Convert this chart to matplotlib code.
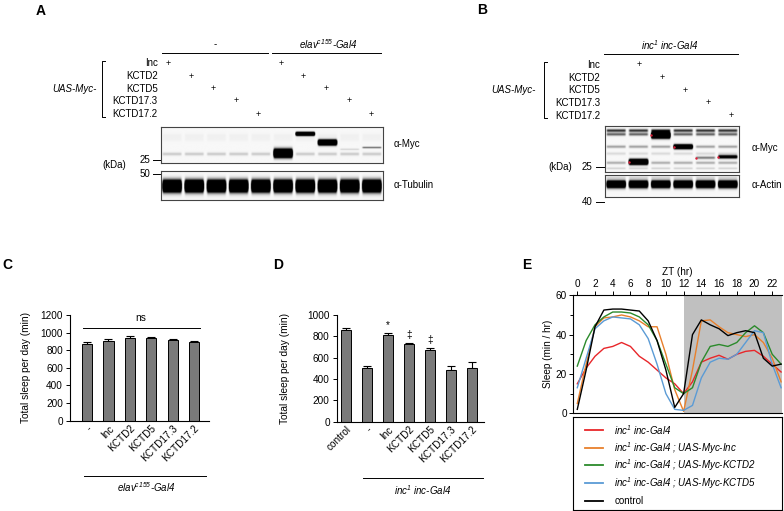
import numpy as np
import matplotlib
matplotlib.use("Agg")
import matplotlib.pyplot as plt
from matplotlib.lines import Line2D

plt.rcParams['font.family'] = ['Liberation Sans', 'DejaVu Sans']
plt.rcParams['mathtext.default'] = 'regular'

# ---------------- data ----------------
ROW_LABELS = ["Inc", "KCTD2", "KCTD5", "KCTD17.3", "KCTD17.2"]

# western blots: (lane, position from top, sigma, level)
MYC_A_COMMON = [(0.75, 0.03, 0.18), (0.24, 0.04, 0.03), (0.34, 0.04, 0.025)]
MYC_A_LANE = [5, 6, 7, 9, 8]
MYC_A_POS = [0.73, 0.19, 0.43, 0.57, 0.62]
MYC_A_SIGMA = [0.07, 0.03, 0.045, 0.015, 0.015]
MYC_A_LEVEL = [4.0, 4.0, 4.0, 0.6, 0.15]
TUB_A_COMMON = [(0.52, 0.12, 4.0)]

MYC_B_COMMON = [(0.10, 0.022, 0.8), (0.18, 0.022, 0.6), (0.45, 0.02, 0.35),
                (0.60, 0.02, 0.12), (0.80, 0.02, 0.3), (0.92, 0.015, 0.15)]
MYC_B_LANE = [1, 2, 3, 4, 5]
MYC_B_POS = [0.78, 0.20, 0.45, 0.69, 0.67]
MYC_B_SIGMA = [0.035, 0.04, 0.03, 0.02, 0.025]
MYC_B_LEVEL = [4.0, 4.0, 3.0, 0.5, 1.5]
ACT_B_COMMON = [(0.42, 0.1, 3.0), (0.12, 0.04, 0.12)]

# panel C
C_LABELS = ["-", "Inc", "KCTD2", "KCTD5", "KCTD17.3", "KCTD17.2"]
C_MEAN = [875, 905, 935, 940, 920, 890]
C_SEM = [15, 20, 25, 15, 12, 20]

# panel D
D_LABELS = ["control", "-", "Inc", "KCTD2", "KCTD5", "KCTD17.3", "KCTD17.2"]
D_MEAN = [860, 500, 815, 725, 675, 485, 505]
D_SEM = [20, 25, 20, 12, 15, 40, 55]
D_MARKS = ["", "", "*", "\u2021", "\u2021", "", ""]

# panel E
ZT = list(range(24))
E_RED = [15, 23, 29, 33, 34, 36, 34, 29, 26, 22, 18, 15, 10, 16, 26, 28, 29.5, 27.5, 30, 31.5, 32, 29, 25, 21]
E_ORANGE = [5, 25, 44, 48.5, 49, 50, 49, 47, 44, 44, 30, 12, 1, 22, 47, 47.5, 44, 41, 40, 39, 40, 36, 28, 16]
E_GREEN = [24, 37, 45, 49, 51.5, 51.5, 51, 49, 45, 37, 25, 13, 10, 13, 26, 34, 35, 34, 36, 41, 44.5, 41, 30, 25]
E_BLUE = [13, 28, 43, 47, 49, 48.5, 48, 45, 38, 25, 10, 2, 1.5, 4, 18, 26, 28, 27.5, 30, 36, 42, 41, 25, 13]
E_BLACK = [2, 22, 44, 52.5, 53, 53, 52.5, 52, 47, 37, 22, 3, 10, 40, 47.5, 45, 43, 39.5, 41, 42, 41, 28, 24, 25]
E_SERIES = [E_RED, E_ORANGE, E_GREEN, E_BLUE, E_BLACK]
E_COLORS = ["#e8262a", "#e8802c", "#2b8a2b", "#5b9bd5", "black"]
E_LABELS = ["inc$^1$ inc-Gal4", "inc$^1$ inc-Gal4 ; UAS-Myc-Inc",
            "inc$^1$ inc-Gal4 ; UAS-Myc-KCTD2", "inc$^1$ inc-Gal4 ; UAS-Myc-KCTD5", "control"]

# ---------------- layout helpers ----------------
W, H = 784, 511
fig = plt.figure(figsize=(W / 100, H / 100), dpi=100)


def box(x0, y0, x1, y1):
    return fig.add_axes([x0 / W, 1 - y1 / H, (x1 - x0) / W, (y1 - y0) / H])


def ftext(x, y, s, **kw):
    kw.setdefault("fontsize", 7)
    kw.setdefault("va", "center")
    fig.text(x / W, 1 - y / H, s, **kw)


def fline(xs, ys, **kw):
    kw.setdefault("color", "black")
    kw.setdefault("lw", 0.7)
    fig.add_artist(Line2D([x / W for x in xs], [1 - y / H for y in ys], **kw))


def blot(ax, n, common, lanes=(), pos=(), sig=(), lev=()):
    rows, per = 100, 40
    dark = np.full((rows, n * per), 0.03)
    y = (np.arange(rows) + 0.5) / rows
    xl = (np.arange(per) + 0.5) / per
    lane_prof = np.clip((0.46 - np.abs(xl - 0.5)) / 0.08, 0, 1)
    bands = [(l, p, s, v) for l in range(n) for (p, s, v) in common]
    bands += list(zip(lanes, pos, sig, lev))
    for l, p, s, v in bands:
        prof = v * np.exp(-0.5 * ((y - p) / s) ** 2)
        dark[:, l * per:(l + 1) * per] += np.outer(prof, lane_prof)
    ax.imshow(1 - np.clip(dark, 0, 1), cmap="gray", vmin=0, vmax=1, aspect="auto",
              extent=(0, n, 1, 0), interpolation="bilinear")
    ax.set_xlim(0, n)
    ax.set_ylim(1, 0)
    ax.set_xticks([])
    ax.set_yticks([])
    for s in ax.spines.values():
        s.set_color("#444444")
        s.set_linewidth(0.8)


# ---------------- panel A ----------------
ftext(41, 11, "A", fontsize=10, weight="bold", ha="center")
ftext(215, 44, "-", ha="center")
ftext(328, 44, "elav$^{c155}$-Gal4", ha="center", style="italic")
fline([162, 268], [52.7, 52.7])
fline([272, 381], [52.7, 52.7])
rows_a = [63.3, 76, 88.7, 101, 114]
for i, lab in enumerate(ROW_LABELS):
    ftext(157.7, rows_a[i], lab, ha="right")
    for lane in (i, i + 5):
        ftext(168.3 + 22.55 * lane, rows_a[i], "+", ha="center", fontsize=6.5)
fline([105, 102, 102, 105], [60.7, 60.7, 117.3, 117.3])
ftext(96.7, 88.7, "UAS-Myc-", ha="right", style="italic")

ax = box(161, 127, 383, 163)
blot(ax, 10, MYC_A_COMMON, MYC_A_LANE, MYC_A_POS, MYC_A_SIGMA, MYC_A_LEVEL)
ax = box(161, 171, 383, 200)
blot(ax, 10, TUB_A_COMMON)
ftext(150, 160, "25", ha="right")
fline([153, 160], [160, 160])
ftext(114, 165.5, "(kDa)", ha="center")
ftext(150, 173.7, "50", ha="right")
fline([153, 160], [173.7, 173.7])
ftext(394, 144, "\u03b1-Myc")
ftext(394, 185.5, "\u03b1-Tubulin")

# ---------------- panel B ----------------
ftext(482, 10.5, "B", fontsize=10, weight="bold", ha="center")
ftext(670, 45, "inc$^1$ inc-Gal4", ha="center", style="italic")
fline([604, 738], [54.3, 54.3])
rows_b = [65, 77.7, 90, 102.7, 115.7]
for i, lab in enumerate(ROW_LABELS):
    ftext(600, rows_b[i], lab, ha="right")
    ftext(616.5 + 22.85 * (i + 1), rows_b[i], "+", ha="center", fontsize=6.5)
fline([547, 544, 544, 547], [61.7, 61.7, 118.3, 118.3])
ftext(536, 90, "UAS-Myc-", ha="right", style="italic")

ax = box(605, 126, 739, 172)
blot(ax, 6, MYC_B_COMMON, MYC_B_LANE, MYC_B_POS, MYC_B_SIGMA, MYC_B_LEVEL)
ax.scatter([l + 0.08 for l in MYC_B_LANE], MYC_B_POS, s=3, color="#e0203a", zorder=3, lw=0)
ax = box(605, 175, 739, 197)
blot(ax, 6, ACT_B_COMMON)
ftext(592.7, 166.7, "25", ha="right")
fline([596, 604], [166.7, 166.7])
ftext(560, 166.7, "(kDa)", ha="center")
ftext(592.7, 201.7, "40", ha="right")
fline([596, 604], [201.7, 201.7])
ftext(751.7, 148.3, "\u03b1-Myc")
ftext(751.7, 185, "\u03b1-Actin")


# ---------------- bar panels ----------------
def bar_panel(ax, labels, mean, sem, ymax):
    x = np.arange(len(labels))
    ax.errorbar(x, mean, yerr=[np.zeros(len(sem)), sem], fmt="none", ecolor="black",
                elinewidth=0.8, capsize=3, capthick=0.8, zorder=1)
    ax.bar(x, mean, width=0.47, color="#7a7a7a", edgecolor="black", lw=0.7, zorder=2)
    ax.set_ylim(0, ymax)
    ax.set_yticks(np.arange(0, ymax + 1, 200))
    ax.set_xticks(x)
    ax.set_xticklabels(labels, rotation=45, ha="right", rotation_mode="anchor")
    ax.tick_params(labelsize=7.2, length=3, width=0.7, pad=2)
    ax.tick_params(axis="x", length=0)
    for s in ("top", "right"):
        ax.spines[s].set_visible(False)
    for s in ("left", "bottom"):
        ax.spines[s].set_linewidth(0.8)
    ax.set_ylabel("Total sleep per day (min)", fontsize=7.3)
    return x


ftext(7, 265, "C", fontsize=10, weight="bold", ha="center")
ax = box(70, 315, 209, 420.7)
x = bar_panel(ax, C_LABELS, C_MEAN, C_SEM, 1200)
ax.set_xlim(-0.8, 5.7)
ax.yaxis.set_label_coords((31 - 70) / 139, 0.5)
ax.plot([x[0] - 0.2, x[-1] + 0.28], [1055, 1055], color="black", lw=0.7)
ax.text((x[0] + x[-1]) / 2, 1110, "ns", ha="center", va="bottom", fontsize=7.3)
fline([84, 206], [475.7, 475.7])
ftext(146.7, 486.7, "elav$^{c155}$-Gal4", ha="center", style="italic")

ftext(278, 265, "D", fontsize=10, weight="bold", ha="center")
ax = box(336.7, 315, 484, 421.7)
x = bar_panel(ax, D_LABELS, D_MEAN, D_SEM, 1000)
ax.set_xlim(-0.43, 6.57)
ax.yaxis.set_label_coords((290 - 336.7) / 147.3, 0.5)
for xi, m, e, mk in zip(x, D_MEAN, D_SEM, D_MARKS):
    if mk:
        ax.text(xi, m + e + 25, mk, ha="center", va="bottom", fontsize=7.3)
fline([363, 483], [477.7, 477.7])
ftext(423, 490, "inc$^1$ inc-Gal4", ha="center", style="italic")

# ---------------- panel E ----------------
ftext(527, 265, "E", fontsize=10, weight="bold", ha="center")
ax = box(573.3, 295.3, 781.7, 413.3)
ax.axvspan(12, 23.07, color="#c0c0c0", lw=0, zorder=0)
for ys, c in zip(E_SERIES, E_COLORS):
    ax.plot(ZT, ys, color=c, lw=1.0)
ax.set_xlim(-0.45, 23.07)
ax.set_ylim(0, 60)
ax.xaxis.tick_top()
ax.xaxis.set_label_position("top")
ax.set_xticks(range(0, 23, 2))
ax.set_xticks(range(1, 23, 2), minor=True)
ax.set_yticks([0, 20, 40, 60])
ax.set_yticks([10, 30, 50], minor=True)
ax.set_xlabel("ZT (hr)", fontsize=7.2, labelpad=3)
ax.set_ylabel("Sleep (min / hr)", fontsize=7.2, labelpad=2)
ax.tick_params(labelsize=7.2, length=3, width=0.7, pad=1.5)
ax.tick_params(which="minor", length=2, width=0.7)
ax.tick_params(axis="x", which="minor", length=0)
ax.spines["right"].set_visible(False)
for s in ("left", "top", "bottom"):
    ax.spines[s].set_linewidth(0.8)

lg = box(572.7, 417, 781.7, 510)
lg.set_xticks([])
lg.set_yticks([])
for s in lg.spines.values():
    s.set_linewidth(0.8)
for i, (lab, c) in enumerate(zip(E_LABELS, E_COLORS)):
    yy = 0.86 - 0.19 * i
    lg.plot([0.059, 0.146], [yy, yy], color=c, lw=1.3, transform=lg.transAxes)
    lg.text(0.199, yy, lab, fontsize=7, va="center", transform=lg.transAxes,
            style="normal" if lab == "control" else "italic")
lg.set_xlim(0, 1)
lg.set_ylim(0, 1)

fig.savefig("out.png", dpi=100)
